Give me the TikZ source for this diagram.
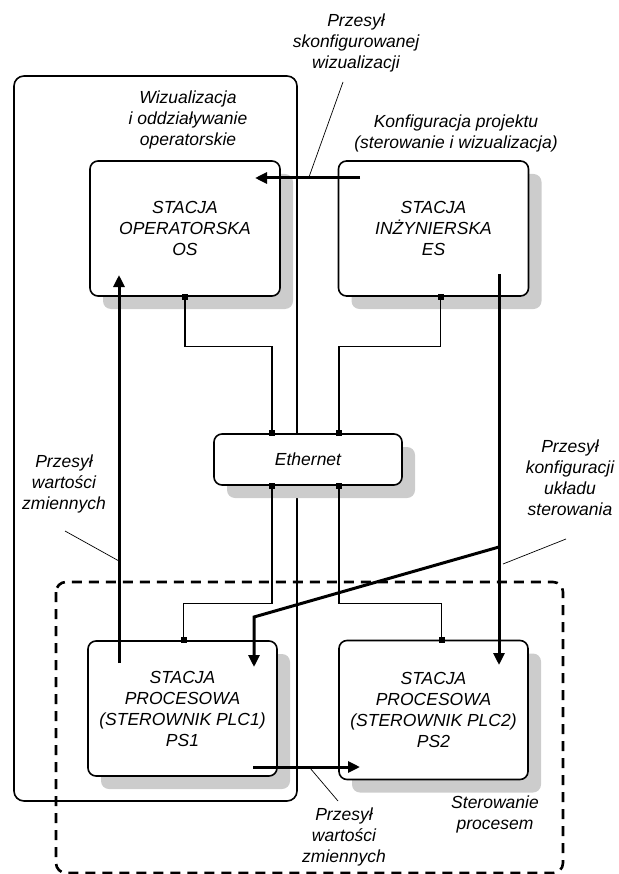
\documentclass[tikz,border=0pt]{standalone}
\usepackage{fontspec}
\setmainfont{Liberation Sans}
\usetikzlibrary{arrows.meta, shadows}

\tikzset{
  stacja/.style={draw, line width=1.6pt, rounded corners=8pt, fill=white,
    minimum width=190pt, minimum height=135pt, align=center, inner sep=0pt,
    drop shadow={shadow xshift=13pt, shadow yshift=-13pt, fill=black!20, opacity=1}},
  port/.style={fill=black, minimum size=6pt, inner sep=0pt},
  kabel/.style={line width=1.1pt},
  przesyl/.style={line width=3pt, -{Triangle[length=12pt, width=11pt]}},
  opis/.style={align=center, inner sep=0pt},
  odnosnik/.style={line width=0.7pt}
}

\begin{document}
\begin{tikzpicture}[x=1pt, y=-1pt, font=\itshape\fontsize{17.5}{21}\selectfont]
\useasboundingbox (0,0) rectangle (618,874);

%Ramki
\draw[line width=1.6pt, rounded corners=10pt] (14,76) rectangle (297,801);
\draw[line width=2.6pt, dash pattern=on 10pt off 7pt, rounded corners=10pt] (56,582) rectangle (563,873);

%Stacje
\node[stacja] (os) at (185,228.5) {STACJA\\OPERATORSKA\\OS};
\node[stacja] (es) at (433.5,228.5) {STACJA\\INŻYNIERSKA\\ES};
\node[stacja, minimum width=188pt, minimum height=51pt] (eth) at (308,459.5) {Ethernet};
\node[stacja, minimum width=189pt] (ps1) at (182.5,708.5) {STACJA\\PROCESOWA\\(STEROWNIK PLC1)\\PS1};
\node[stacja, minimum width=189pt, minimum height=139pt] (ps2) at (433.5,710) {STACJA\\PROCESOWA\\(STEROWNIK PLC2)\\PS2};

%Porty
\node[port] (osP) at (os.south) {};
\node[port] (esP) at ([xshift=7pt]es.south) {};
\node[port] (ethNA) at ([xshift=-36pt]eth.north) {};
\node[port] (ethNB) at ([xshift=31pt]eth.north) {};
\node[port] (ethSA) at ([xshift=-36pt]eth.south) {};
\node[port] (ethSB) at ([xshift=31pt]eth.south) {};
\node[port] (ps1P) at ([xshift=1pt]ps1.north) {};
\node[port] (ps2P) at ([xshift=8pt]ps2.north) {};

%Połączenia
\draw[kabel] (osP.center) -- ++(0,50) -| (ethNA.center);
\draw[kabel] (esP.center) -- ++(0,50) -| (ethNB.center);
\draw[kabel] (ethSA.center) -- ++(0,118) -| (ps1P.center);
\draw[kabel] (ethSB.center) -- ++(0,118) -| (ps2P.center);

%Strzałki
\coordinate (esOut) at (360,178);
\coordinate (osIn) at (255,178);
\coordinate (ps1Out) at (119,663);
\coordinate (osDol) at (119,275);
\coordinate (esDol) at (499,274);
\coordinate (ps2In) at (499,665);
\coordinate (rozgal) at (499,547);
\coordinate (zalam) at (254,617);
\coordinate (ps1In) at (254,667);
\coordinate (ps1Prawo) at (253,767);
\coordinate (ps2Lewo) at (360,767);
\draw[przesyl] (esOut) -- (osIn);
\draw[przesyl] (ps1Out) -- (osDol);
\draw[przesyl] (esDol) -- (ps2In);
\draw[przesyl] (rozgal) -- (zalam) -- (ps1In);
\draw[przesyl] (ps1Prawo) -- (ps2Lewo);

%Opisy
\node[opis] (txtWiz) at (356,43) {Przesył\\skonfigurowanej\\wizualizacji};
\node[opis] (txtOper) at (188,120) {Wizualizacja\\i oddziaływanie\\operatorskie};
\node[opis] (txtKonf) at (456,133.5) {Konfiguracja projektu\\(sterowanie i wizualizacja)};
\node[opis] (txtZmL) at (64,483.5) {Przesył\\wartości\\zmiennych};
\node[opis] (txtUkl) at (570,478) {Przesył\\konfiguracji\\układu\\sterowania};
\node[opis] (txtZmD) at (344,837) {Przesył\\wartości\\zmiennych};
\node[opis] (txtSter) at (495,814) {Sterowanie\\procesem};

%Odnośniki
\draw[odnosnik] (343,82) -- (309,177);
\draw[odnosnik] (65,531) -- (119,561);
\draw[odnosnik] (566,539) -- (503,564);
\draw[odnosnik] (310,768) -- (338,801);
\end{tikzpicture}
\end{document}
